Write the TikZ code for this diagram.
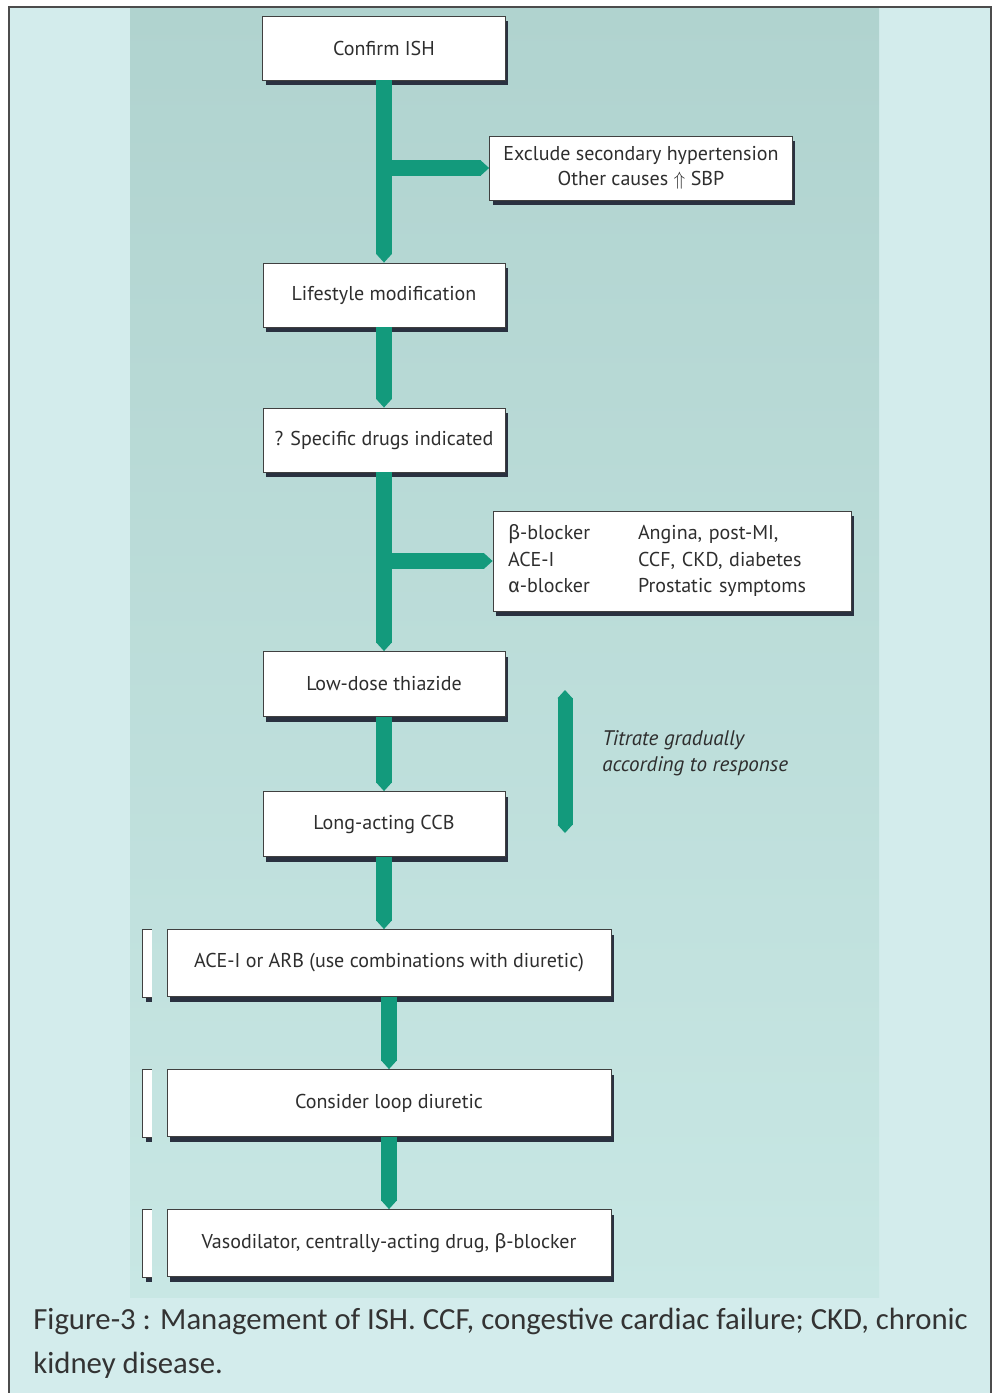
\documentclass[tikz,border=0pt]{standalone}
\usepackage{fontspec}
\setmainfont{PT Sans}
\newfontfamily\capfont{Carlito}
\newfontfamily\grk{Fira Sans}
\usepackage{tikz}
\usetikzlibrary{
  arrows.meta,
  shadows,
  positioning
}
\definecolor{pagebg}{HTML}{D3ECEC}
\definecolor{phototop}{HTML}{B0D3CF}
\definecolor{photobot}{HTML}{C8E7E4}
\definecolor{flowgreen}{HTML}{139A7C}
\definecolor{boxshadow}{HTML}{2A3140}
\definecolor{boxtext}{HTML}{2E2E2E}
\tikzset{>=latex}
\tikzset{
  stepbox/.style={draw=black!75, fill=white, line width=0.5pt, text=boxtext,
    font=\fontsize{11.4}{14}\selectfont, inner sep=2pt,
    drop shadow={shadow xshift=0.06cm, shadow yshift=-0.1cm, fill=boxshadow, opacity=1}},
  flow/.style={draw=flowgreen, line width=0.31cm,
    -{Triangle[width=0pt 1, length=0pt 0.55, line width=0pt]}},
  dflow/.style={draw=flowgreen, line width=0.3cm,
    {Triangle[width=0pt 1, length=0pt 0.55, line width=0pt]}-{Triangle[width=0pt 1, length=0pt 0.55, line width=0pt]}}
}

\begin{document}
\begin{tikzpicture}[x=0.02cm, y=-0.02cm]
  \useasboundingbox (0,0) rectangle (998,1393);
  % frame and photo area
  \fill[pagebg] (9,7) rectangle (991,1393);
  \draw[black!70, line width=1pt] (9,1393) -- (9,7) -- (991,7) -- (991,1393);
  \shade[top color=phototop, bottom color=photobot] (130,8) rectangle (879,1297);

  % boxes
  \node[stepbox, minimum width=4.86cm, minimum height=1.28cm] (ish) at (384,48) {Confirm ISH};
  \node[stepbox, minimum width=6.06cm, minimum height=1.28cm, align=center] (excl) at (641,168)
    {Exclude secondary hypertension\\Other causes $\Uparrow$ SBP};
  \node[stepbox, minimum width=4.84cm, minimum height=1.28cm] (life) at (384,295) {Lifestyle modification};
  \node[stepbox, minimum width=4.84cm, minimum height=1.28cm] (spec) at (384,440) {? Specific drugs indicated};
  \node[stepbox, minimum width=7.16cm, minimum height=2cm, text width=6.56cm, inner xsep=0.3cm,
    align=left, font=\fontsize{11.4}{15}\selectfont] (drugs) at (672,561)
    {\begin{tabular}{@{}p{2.6cm}@{}l@{}}
      {\grk β}-blocker & Angina, post-MI,\\
      ACE-I & CCF, CKD, diabetes\\
      {\grk α}-blocker & Prostatic symptoms
    \end{tabular}};
  \node[stepbox, minimum width=4.84cm, minimum height=1.3cm] (thia) at (384,684) {Low-dose thiazide};
  \node[stepbox, minimum width=4.84cm, minimum height=1.3cm] (ccb) at (384,824) {Long-acting CCB};
  \node[stepbox, minimum width=8.88cm, minimum height=1.34cm] (acei) at (389,963)
    {ACE-I or ARB (use combinations with diuretic)};
  \node[stepbox, minimum width=8.88cm, minimum height=1.34cm] (loop) at (389,1103) {Consider loop diuretic};
  \node[stepbox, minimum width=8.88cm, minimum height=1.34cm] (vaso) at (389,1243)
    {Vasodilator, centrally-acting drug, {\grk β}-blocker};

  % stacked cards behind the last three boxes
  \foreach \b in {acei,loop,vaso}{
    \fill[white] ([xshift=-0.48cm]\b.north west) rectangle ([xshift=-0.3cm]\b.south west);
    \fill[boxshadow] ([xshift=-0.42cm]\b.south west) rectangle ([xshift=-0.3cm,yshift=-0.1cm]\b.south west);
    \draw[black!75, line width=0.5pt] ([xshift=-0.3cm]\b.north west) -| ([xshift=-0.48cm]\b.south west)
      -- ([xshift=-0.3cm]\b.south west);
  }

  % green arrows
  \draw[flow] (ish.south) -- (ish.south |- life.north);
  \draw[flow] (ish.south |- excl.west) -- (excl.west);
  \draw[flow] (life.south) -- (life.south |- spec.north);
  \draw[flow] (spec.south) -- (spec.south |- thia.north);
  \draw[flow] (spec.south |- drugs.west) -- (drugs.west);
  \draw[flow] (thia.south) -- (thia.south |- ccb.north);
  \draw[flow] (ccb.south) -- (ccb.south |- acei.north);
  \draw[flow] (acei.south) -- (acei.south |- loop.north);
  \draw[flow] (loop.south) -- (loop.south |- vaso.north);

  % titration
  \coordinate (tTop) at (565,690);
  \coordinate (tBot) at (565,833);
  \draw[dflow] (tTop) -- (tBot);
  \node[anchor=west, align=left, text=boxtext, inner sep=0pt,
    font=\itshape\fontsize{12}{15}\selectfont] (titr) at (602,753)
    {Titrate gradually\\according to response};

  % caption
  \node[anchor=base west, align=left, inner sep=0pt, text=black!80,
    font=\capfont\fontsize{17.5}{24.5}\selectfont] (cap) at (33,1373)
    {Figure-3 : Management of ISH. CCF, congestive cardiac failure; CKD, chronic\\kidney disease.};
\end{tikzpicture}
\end{document}
